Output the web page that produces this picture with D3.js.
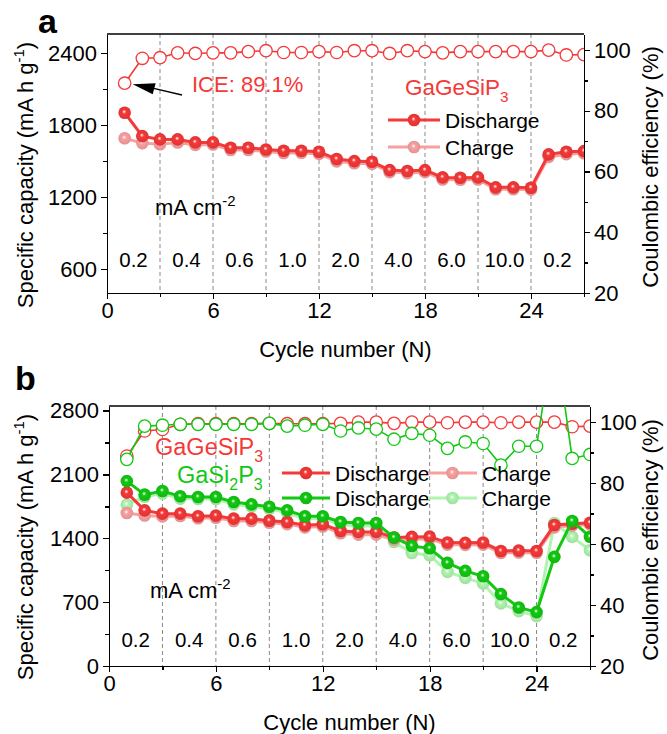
<!DOCTYPE html>
<html lang="en">
<head>
<meta charset="utf-8">
<title>GaGeSiP3 rate performance</title>
<script src="https://cdn.jsdelivr.net/npm/d3@7"></script>
<style>
  body { margin: 0; background: #fff; }
  svg text { font-family: Arial, "Liberation Sans", sans-serif; }
  .axis path, .axis line { stroke: #000; stroke-width: 1.3; shape-rendering: crispEdges; }
  .axis text { font-size: 22px; fill: #000; }
  .grid { stroke: #888; stroke-width: 1; stroke-dasharray: 4,3; }
</style>
</head>
<body>
<script>
// ---------- data ----------
var cycles = [1,2,3,4,5,6,7,8,9,10,11,12,13,14,15,16,17,18,19,20,21,22,23,24,25,26,27];
var rateLabels = ["0.2","0.4","0.6","1.0","2.0","4.0","6.0","10.0","0.2"];
var rateBounds = [0,3,6,9,12,15,18,21,24,27];
var xTicks = [0,6,12,18,24];

// panel a : GaGeSiP3
var aDischarge = [1903,1708,1681,1681,1656,1656,1611,1611,1597,1586,1586,1578,1517,1500,1494,1425,1417,1425,1364,1361,1364,1281,1281,1278,1556,1578,1583];
var aCharge    = [1690,1650,1640,1655,1635,1638,1592,1592,1580,1568,1570,1560,1498,1482,1478,1408,1400,1408,1347,1345,1347,1265,1265,1262,1535,1558,1565];
var aCE        = [89.1,97.3,97.5,99.1,98.9,99.1,99.1,99.5,99.8,99.2,99.2,99.5,99.2,99.8,99.8,98.9,99.8,99.5,99.1,99.5,99.5,99.5,99.5,99.5,100,98.4,98.5];
var aLeftTicks = [600,1200,1800,2400];
var aLeftMinor = [900,1500,2100];

// panel b : GaGeSiP3 vs GaSi2P3
var bGeDischarge = [1900,1706,1670,1670,1641,1648,1615,1615,1593,1579,1542,1553,1480,1470,1470,1408,1415,1418,1353,1350,1353,1261,1265,1261,1545,1560,1570];
var bGeCharge    = [1677,1650,1640,1645,1620,1625,1590,1590,1570,1555,1520,1530,1455,1440,1440,1385,1390,1395,1330,1328,1330,1240,1245,1240,1520,1540,1552];
var bSiDischarge = [2027,1878,1918,1860,1852,1852,1797,1772,1746,1706,1641,1641,1579,1568,1568,1408,1316,1290,1130,1043,984,788,642,591,1196,1590,1415];
var bSiCharge    = [1768,1855,1890,1835,1830,1830,1772,1748,1722,1680,1615,1615,1550,1535,1535,1360,1239,1214,1032,966,904,686,602,547,1568,1415,1269];
var bGeCE = [88.9,97.1,97.6,99.3,99.5,99.5,99.5,99.5,99.6,99.5,99.5,99.5,99.6,100,100,99.6,100,100,99.8,100,100,99.8,100,100,100,98.5,98.7];
var bSiCE = [87.8,98.7,99.0,99.3,99.3,99.3,99.3,99.3,99.6,98.7,99.0,99.3,97.1,98.1,97.7,94.4,96.3,95.7,91.4,93.5,93.0,85.9,92.1,92.1,130,88.1,89.4];
var bLeftTicks = [0,700,1400,2100,2800];
var bLeftMinor = [350,1050,1750,2450];

var rightTicks = [20,40,60,80,100];
var rightMinor = [30,50,70,90];

var RED = "#f53838", RED_PALE = "#f8a0a0", GREEN = "#12c812", GREEN_PALE = "#b0f4b0";

var W = 667, H = 734;
var svg = d3.select("body").append("svg").attr("width", W).attr("height", H);
var defs = svg.append("defs");

function ballGradient(id, color) {
    var g = defs.append("radialGradient").attr("id", id)
        .attr("cx", "50%").attr("cy", "50%").attr("r", "55%")
        .attr("fx", "45%").attr("fy", "40%");
    g.append("stop").attr("offset", "0%").attr("stop-color", "#ffffff");
    g.append("stop").attr("offset", "30%").attr("stop-color", color);
    g.append("stop").attr("offset", "100%").attr("stop-color", d3.color(color).darker(0.3));
}
ballGradient("gRed", RED);
ballGradient("gRedPale", RED_PALE);
ballGradient("gGreen", GREEN);
ballGradient("gGreenPale", GREEN_PALE);

// text with sub/superscript pieces: [[text, "sub"|"sup"|null], ...]
function richText(g, x, y, parts, size, color, anchor) {
    var t = g.append("text").attr("x", x).attr("y", y)
        .attr("font-size", size).attr("fill", color || "#000")
        .attr("text-anchor", anchor || "start");
    var shift = 0;
    parts.forEach(function(p) {
        var dy = 0;
        if (p[1] == "sub") dy = size * 0.3;
        if (p[1] == "sup") dy = -size * 0.42;
        t.append("tspan").attr("dy", dy - shift)
            .attr("font-size", p[1] ? size * 0.68 : size)
            .text(p[0]);
        shift = dy;
    });
    return t;
}

function drawPanel(o) {
    var x = d3.scaleLinear().domain([0, 27]).range([o.left, o.right]);
    var yL = d3.scaleLinear().domain(o.leftDomain).range([o.bottom, o.top]);
    var yR = d3.scaleLinear().domain([20, 105.3]).range([o.bottom, o.top]);
    var g = svg.append("g");
    var fmt = d3.format("d");

    // dashed separators of the current steps
    g.selectAll(".grid").data(rateBounds.slice(1, -1)).enter().append("line")
        .attr("class", "grid")
        .attr("x1", function(d) { return x(d); }).attr("x2", function(d) { return x(d); })
        .attr("y1", o.top).attr("y2", o.bottom);

    // rate labels
    g.selectAll(".rate").data(rateLabels).enter().append("text")
        .attr("x", function(d, i) { return x((rateBounds[i] + rateBounds[i + 1]) / 2); })
        .attr("y", o.rateY)
        .attr("text-anchor", "middle").attr("font-size", 20.5)
        .text(function(d) { return d; });
    richText(g, o.unitX, o.unitY, [["mA cm"], ["-2", "sup"]], 22);

    // axes
    g.append("g").attr("class", "axis")
        .attr("transform", "translate(0," + o.bottom + ")")
        .call(d3.axisBottom(x).tickValues(xTicks).tickFormat(fmt).tickSize(6).tickSizeOuter(0).tickPadding(3));
    g.append("g").attr("class", "axis")
        .attr("transform", "translate(0," + o.bottom + ")")
        .call(d3.axisBottom(x).tickValues([3,9,15,21,27]).tickSize(4).tickFormat("").tickSizeOuter(0));
    g.append("g").attr("class", "axis")
        .attr("transform", "translate(" + o.left + ",0)")
        .call(d3.axisLeft(yL).tickValues(o.leftTicks).tickFormat(fmt).tickSize(6).tickSizeOuter(0).tickPadding(4));
    g.append("g").attr("class", "axis")
        .attr("transform", "translate(" + o.left + ",0)")
        .call(d3.axisLeft(yL).tickValues(o.leftMinor).tickSize(4).tickFormat("").tickSizeOuter(0));
    g.append("g").attr("class", "axis")
        .attr("transform", "translate(" + o.right + ",0)")
        .call(d3.axisRight(yR).tickValues(rightTicks).tickFormat(fmt).tickSize(6).tickSizeOuter(0).tickPadding(4));
    g.append("g").attr("class", "axis")
        .attr("transform", "translate(" + o.right + ",0)")
        .call(d3.axisRight(yR).tickValues(rightMinor).tickSize(4).tickFormat("").tickSizeOuter(0));
    g.append("line").attr("x1", o.left).attr("x2", o.right).attr("y1", o.top).attr("y2", o.top)
        .attr("stroke", "#000").attr("stroke-width", 1.3);

    // axis titles
    g.append("text").attr("x", (o.left + o.right) / 2).attr("y", o.bottom + 64)
        .attr("text-anchor", "middle").attr("font-size", 22).text("Cycle number (N)");
    var lt = richText(g, 0, 0, [["Specific capacity (mA h g"], ["-1", "sup"], [")"]], 22, "#000", "middle");
    lt.attr("transform", "translate(33," + o.leftLabelY + ") rotate(-90)");
    g.append("text").attr("text-anchor", "middle").attr("font-size", 22)
        .attr("transform", "translate(658," + o.rightLabelY + ") rotate(-90)")
        .text("Coulombic efficiency (%)");

    // panel letter
    g.append("text").attr("x", o.letterX).attr("y", o.letterY)
        .attr("font-size", 34).attr("font-weight", "bold").text(o.letter);

    // clip for data
    defs.append("clipPath").attr("id", "clip" + o.letter).append("rect")
        .attr("x", o.left).attr("y", o.top)
        .attr("width", o.right - o.left).attr("height", o.bottom - o.top);
    var plot = g.append("g").attr("clip-path", "url(#clip" + o.letter + ")");

    var lineL = d3.line().x(function(d, i) { return x(cycles[i]); }).y(function(d) { return yL(d); });
    var lineR = d3.line().x(function(d, i) { return x(cycles[i]); }).y(function(d) { return yR(d); });

    o.capSeries.forEach(function(s) {
        plot.append("path").attr("d", lineL(s.values))
            .attr("fill", "none").attr("stroke", s.color).attr("stroke-width", 3);
        plot.selectAll(null).data(s.values).enter().append("circle")
            .attr("cx", function(d, i) { return x(cycles[i]); })
            .attr("cy", function(d) { return yL(d); })
            .attr("r", 6.3).attr("fill", "url(#" + s.grad + ")");
    });
    o.ceSeries.forEach(function(s) {
        plot.append("path").attr("d", lineR(s.values))
            .attr("fill", "none").attr("stroke", s.color).attr("stroke-width", 1.6);
        plot.selectAll(null).data(s.values).enter().append("circle")
            .attr("cx", function(d, i) { return x(cycles[i]); })
            .attr("cy", function(d) { return yR(d); })
            .attr("r", 6.2).attr("fill", "#fff").attr("stroke", s.color).attr("stroke-width", 1.3);
    });
    return {x: x, yL: yL, yR: yR, g: g};
}

function legendItem(g, x1, x2, y, color, grad, label) {
    g.append("line").attr("x1", x1).attr("x2", x2).attr("y1", y).attr("y2", y)
        .attr("stroke", color).attr("stroke-width", 3);
    g.append("circle").attr("cx", (x1 + x2) / 2).attr("cy", y).attr("r", 6.3)
        .attr("fill", "url(#" + grad + ")");
    g.append("text").attr("x", x2 + 5).attr("y", y + 7.5).attr("font-size", 21).text(label);
}

// ---------- panel a ----------
var pa = drawPanel({
    letter: "a", letterX: 38, letterY: 33,
    left: 107, right: 584, top: 34, bottom: 293,
    leftDomain: [400, 2560], leftTicks: aLeftTicks, leftMinor: aLeftMinor,
    rateY: 267, unitX: 155, unitY: 215, leftLabelY: 175, rightLabelY: 167,
    capSeries: [
        {values: aCharge, color: RED_PALE, grad: "gRedPale"},
        {values: aDischarge, color: RED, grad: "gRed"}
    ],
    ceSeries: [{values: aCE, color: RED}]
});
// ICE annotation
var tipX = pa.x(cycles[0]) + 8, tipY = pa.yR(aCE[0]) + 1;
pa.g.append("line").attr("x1", 182).attr("y1", 95).attr("x2", tipX + 20).attr("y2", tipY + 4)
    .attr("stroke", "#000").attr("stroke-width", 1.3);
pa.g.append("path")
    .attr("d", "M" + tipX + "," + tipY + " L" + (tipX + 23) + "," + (tipY - 1) + " L" + (tipX + 20) + "," + (tipY + 10) + " Z")
    .attr("fill", "#000");
pa.g.append("text").attr("x", 192).attr("y", 92).attr("font-size", 22).attr("fill", RED).text("ICE: 89.1%");
richText(pa.g, 405, 95, [["GaGeSiP"], ["3", "sub"]], 22.5, RED);
legendItem(pa.g, 388, 440, 120, RED, "gRed", "Discharge");
legendItem(pa.g, 388, 440, 147, RED_PALE, "gRedPale", "Charge");

// ---------- panel b ----------
var pb = drawPanel({
    letter: "b", letterX: 15, letterY: 390,
    left: 109, right: 590, top: 406, bottom: 666,
    leftDomain: [0, 2850], leftTicks: bLeftTicks, leftMinor: bLeftMinor,
    rateY: 647, unitX: 150, unitY: 598, leftLabelY: 547, rightLabelY: 540,
    capSeries: [
        {values: bSiCharge, color: GREEN_PALE, grad: "gGreenPale"},
        {values: bGeCharge, color: RED_PALE, grad: "gRedPale"},
        {values: bGeDischarge, color: RED, grad: "gRed"},
        {values: bSiDischarge, color: GREEN, grad: "gGreen"}
    ],
    ceSeries: [{values: bGeCE, color: RED}, {values: bSiCE, color: GREEN}]
});
richText(pb.g, 155, 455, [["GaGeSiP"], ["3", "sub"]], 23.5, RED);
richText(pb.g, 177, 483, [["GaSi"], ["2", "sub"], ["P"], ["3", "sub"]], 23.5, GREEN);
legendItem(pb.g, 282, 330, 473, RED, "gRed", "Discharge");
legendItem(pb.g, 282, 330, 498, GREEN, "gGreen", "Discharge");
legendItem(pb.g, 428, 477, 473, RED_PALE, "gRedPale", "Charge");
legendItem(pb.g, 428, 477, 498, GREEN_PALE, "gGreenPale", "Charge");
</script>
</body>
</html>
